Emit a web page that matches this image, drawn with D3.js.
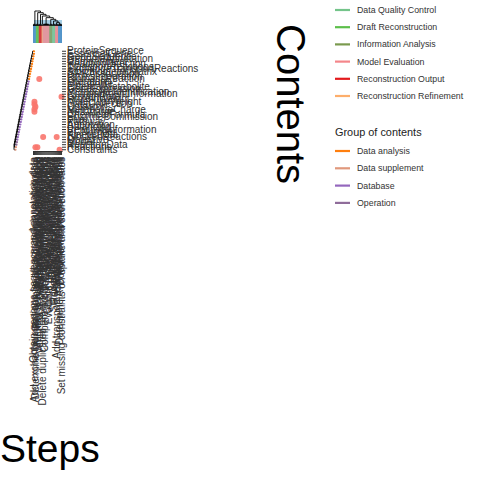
<!DOCTYPE html>
<html>
<head>
<meta charset="utf-8">
<script src="https://cdn.jsdelivr.net/npm/d3@7"></script>
<style>
  body { margin: 0; background: #fff; }
  svg { font-family: "Liberation Sans", Arial, sans-serif; }
</style>
</head>
<body>
<svg id="chart" width="480" height="480"></svg>
<script>
// row categories (contents), top to bottom
const contents = [
  "ProteinSequence", "EssentialGene", "GeneSequence", "GenomeAnnotation",
  "Compartment", "ReactionDirection", "TransportReactions", "ExchangeTransportReactions",
  "StoichiometricMatrix", "GPRAssociation", "OmicsIntegration", "BiomassReaction",
  "Literature", "Metabolite", "ExternalMetabolite", "GeneExpression",
  "MetaboliteIdentification", "CompartmentInformation", "GrowthRate", "ProteinWeight",
  "MolecularWeight", "DataCollection", "Cofactor", "MetaboliteCharge",
  "NetCharge", "ChemicalFormula", "EnzymeCommission", "Flux",
  "Pathway", "Annotation", "Balancing", "ReactionInformation",
  "ECNumber", "KineticData", "BlockedReactions", "Objective",
  "Model", "ReactionData", "Reactions", "Constraints"
];
const contentGroups = [
  "Data analysis", "Data analysis", "Data analysis", "Data analysis",
  "Data analysis", "Data analysis", "Data analysis", "Data analysis",
  "Data analysis", "Data analysis", "Data analysis", "Data analysis",
  "Database", "Database", "Database", "Database",
  "Database", "Database", "Database", "Database",
  "Database", "Database", "Database", "Database",
  "Database", "Database", "Database", "Database",
  "Database", "Database", "Database", "Database",
  "Database", "Database", "Database", "Database",
  "Operation", "Operation", "Data supplement", "Data supplement"
];

// column categories (steps), left to right
const steps = [
  "Obtain genome sequence and annotation data",
  "Add exchange reactions for all extracellular metabolites",
  "Determine biomass composition of the target organism",
  "Retrieve candidate metabolic functions",
  "Identify gene-protein-reaction associations",
  "Assign subcellular localization",
  "Export model in SBML format",
  "Verify mass and charge balance of reactions",
  "Determine reaction directionality",
  "Fill gaps in metabolic network",
  "Delete duplicated reactions from the draft reconstruction",
  "List dead-end metabolites",
  "Compare predictions with experimental data",
  "Test growth on different media",
  "Identify blocked reactions",
  "Check for energy generating cycles",
  "Evaluate gene essentiality predictions",
  "Analyze network topology",
  "Compare with existing models",
  "Collect physiological data",
  "Check metabolite identifiers",
  "Standardize reaction nomenclature",
  "Remove inconsistent annotations",
  "Define the objective function",
  "Add transport reactions across compartments",
  "Simulate flux balance analysis",
  "Add spontaneous reactions",
  "Determine ATP maintenance requirements",
  "Document curation decisions",
  "Set missing constraints on uptake and secretion rates"
];
const stepGroups = [
  "Data Collection", "Data Collection", "Data Collection",
  "Draft Reconstruction", "Draft Reconstruction", "Draft Reconstruction",
  "Reconstruction Output", "Reconstruction Output", "Reconstruction Output",
  "Reconstruction Refinement",
  "Model Evaluation", "Model Evaluation", "Model Evaluation", "Model Evaluation",
  "Model Evaluation", "Model Evaluation", "Model Evaluation",
  "Information Analysis", "Information Analysis", "Information Analysis",
  "Data Quality Control", "Data Quality Control", "Data Quality Control",
  "Model Evaluation", "Model Evaluation", "Model Evaluation",
  "Data Collection", "Data Collection", "Data Collection", "Data Collection"
];

// filled cells: [content, step index]
const cells = [
  ["BiomassReaction", 6],
  ["GrowthRate", 29],
  ["MolecularWeight", 1],
  ["DataCollection", 1],
  ["Cofactor", 2],
  ["MetaboliteCharge", 1],
  ["NetCharge", 1],
  ["BlockedReactions", 10],
  ["BlockedReactions", 24],
  ["Reactions", 2],
  ["Reactions", 4],
  ["Constraints", 27]
];

const stepLegend = ["Data Quality Control", "Draft Reconstruction", "Information Analysis",
  "Model Evaluation", "Reconstruction Output", "Reconstruction Refinement"];
const stepColors = ["#74c48a", "#5cbf4a", "#7a9a4e", "#f4868a", "#e31a1c", "#fdae6b"];
const contentLegend = ["Data analysis", "Data supplement", "Database", "Operation"];
const contentColors = ["#ff7f0e", "#e0987c", "#9467bd", "#8f6c9a"];

const stepColor = d3.scaleOrdinal()
  .domain(stepLegend.concat(["Data Collection"]))
  .range(stepColors.concat(["#4f93c9"]));
const contentColor = d3.scaleOrdinal().domain(contentLegend).range(contentColors);

const svg = d3.select("#chart");

// heatmap body
const x = d3.scaleBand().domain(steps).range([33, 62]);
const y = d3.scaleBand().domain(contents).range([50, 151]);

svg.append("g")
  .selectAll("circle")
  .data(cells)
  .join("circle")
  .attr("cx", d => x(steps[d[1]]) + x.bandwidth() / 2)
  .attr("cy", d => y(d[0]) + y.bandwidth() / 2)
  .attr("r", 3)
  .attr("fill", "#f8766d")
  .attr("fill-opacity", 0.9);

// axes
const yAxis = svg.append("g")
  .attr("transform", "translate(62,0)")
  .call(d3.axisRight(y).tickSize(4).tickPadding(1).tickSizeOuter(0));
yAxis.select(".domain").remove();
yAxis.selectAll("line").attr("stroke", "#333");
yAxis.selectAll("text").attr("fill", "#333").style("font-size", "10px")
  .style("font-family", "'Liberation Sans', Arial, sans-serif");

const xAxis = svg.append("g")
  .attr("transform", "translate(0,151)")
  .call(d3.axisBottom(x).tickSize(4).tickSizeOuter(0));
xAxis.select(".domain").attr("stroke", "#333");
xAxis.selectAll("line").attr("stroke", "#333");
xAxis.selectAll("text")
  .attr("fill", "#333")
  .style("font-size", "10px")
  .style("font-family", "'Liberation Sans', Arial, sans-serif")
  .attr("transform", "rotate(-90)")
  .attr("x", -6)
  .attr("y", 0)
  .attr("dy", "0.32em")
  .style("text-anchor", "end");

// row dendrogram (merges chain down the rows)
let rowTree = { children: [{ name: contents[0] }, { name: contents[1] }] };
contents.slice(2).forEach(n => { rowTree = { children: [rowTree, { name: n }] }; });
const rowRoot = d3.hierarchy(rowTree);
d3.cluster().separation(() => 1).size([y.range()[1] - y.range()[0] - y.bandwidth(), 19])(rowRoot);
rowRoot.each(d => {
  d.py = d.data.name ? y(d.data.name) + y.bandwidth() / 2 : d.x + y.range()[0] + y.bandwidth() / 2;
  d.px = 14 + d.y;
});
// leaves hang just beside their parent
rowRoot.leaves().forEach(d => { d.px = d.parent.px + 1.5; });
svg.append("g")
  .selectAll("path")
  .data(rowRoot.links())
  .join("path")
  .attr("fill", "none")
  .attr("stroke", "#000")
  .attr("stroke-width", 0.9)
  .attr("d", d => `M${d.source.px},${d.source.py}V${d.target.py}H${d.target.px}`);
svg.append("g")
  .selectAll("circle")
  .data(rowRoot.leaves())
  .join("circle")
  .attr("cx", d => d.px)
  .attr("cy", d => d.py)
  .attr("r", 1.1)
  .attr("fill", d => contentColor(contentGroups[contents.indexOf(d.data.name)]));

// column annotation
svg.append("rect")
  .attr("x", x.range()[0] + 1).attr("y", 20)
  .attr("width", x.range()[1] - x.range()[0] - 1).attr("height", 23)
  .attr("fill", "#a6cfe6");
svg.append("g")
  .selectAll("rect")
  .data(steps)
  .join("rect")
  .attr("x", d => x(d))
  .attr("y", 25)
  .attr("width", x.bandwidth())
  .attr("height", 18)
  .attr("fill", (d, i) => stepColor(stepGroups[i]));

// column dendrogram: runs of the same group form flat clusters, chained from the left
const runs = [];
steps.forEach((s, i) => {
  if (i > 0 && stepGroups[i] === stepGroups[i - 1]) runs[runs.length - 1].children.push({ name: s });
  else runs.push({ children: [{ name: s }] });
});
let colTree = { children: [runs[runs.length - 2], runs[runs.length - 1]] };
runs.slice(0, -2).reverse().forEach(r => { colTree = { children: [r, colTree] }; });
const colRoot = d3.hierarchy(colTree);
d3.cluster().separation(() => 1).size([x.range()[1] - x.range()[0] - x.bandwidth(), 15])(colRoot);
colRoot.each(d => {
  d.px = d.data.name ? x(d.data.name) + x.bandwidth() / 2 : d.x + x.range()[0] + x.bandwidth() / 2;
  d.py = 11 + d.y;
});
svg.append("g")
  .selectAll("path")
  .data(colRoot.links())
  .join("path")
  .attr("fill", "none")
  .attr("stroke", "#000")
  .attr("stroke-width", 0.9)
  .attr("d", d => `M${d.source.px},${d.source.py}H${d.target.px}V${d.target.py}`);

// axis titles
svg.append("text")
  .attr("x", 0).attr("y", 462)
  .style("font-size", "39px")
  .attr("fill", "#000")
  .text("Steps");
svg.append("text")
  .attr("transform", "translate(277,24) rotate(90)")
  .style("font-size", "40px")
  .attr("fill", "#000")
  .text("Contents");

// legends
const lg1 = svg.append("g").attr("transform", "translate(335,10)");
const it1 = lg1.selectAll("g").data(stepLegend).join("g")
  .attr("transform", (d, i) => `translate(0,${i * 17.2})`);
it1.append("line").attr("x1", 0).attr("x2", 15)
  .attr("stroke", d => stepColor(d)).attr("stroke-width", 2.2);
it1.append("text").attr("x", 22).attr("dy", "0.35em")
  .style("font-size", "8.8px").attr("fill", "#333").text(d => d);

const lg2 = svg.append("g").attr("transform", "translate(335,132)");
lg2.append("text").attr("dy", "0.35em").style("font-size", "10.9px").attr("fill", "#222")
  .text("Group of contents");
const it2 = lg2.selectAll("g").data(contentLegend).join("g")
  .attr("transform", (d, i) => `translate(0,${19 + i * 17.3})`);
it2.append("line").attr("x1", 0).attr("x2", 15)
  .attr("stroke", d => contentColor(d)).attr("stroke-width", 2.2);
it2.append("text").attr("x", 22).attr("dy", "0.35em")
  .style("font-size", "8.8px").attr("fill", "#333").text(d => d);
</script>
</body>
</html>
